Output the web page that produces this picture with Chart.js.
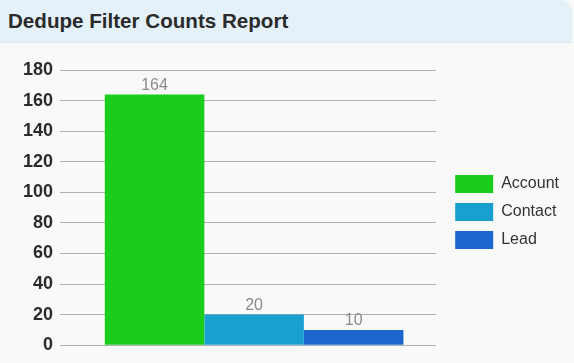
<!DOCTYPE html>
<html><head><meta charset="utf-8">
<script src="https://cdn.jsdelivr.net/npm/chart.js@4"></script>
<style>
html,body{margin:0;padding:0;background:#f9f9f9;width:574px;height:363px;overflow:hidden;font-family:"Liberation Sans",Arial,sans-serif;}
#hdr{position:absolute;left:0;top:0;width:572px;height:42px;background:#e4f1f9;border-top-right-radius:12px;border-bottom:1px solid #dde6ec;}
#hdr span{position:absolute;left:8px;top:9px;font-size:20.6px;font-weight:bold;color:#2b2b2b;}
#wrap{position:absolute;left:0;top:43px;width:574px;height:320px;}
</style></head><body>
<div id="hdr"><span>Dedupe Filter Counts Report</span></div>
<div id="wrap"><canvas id="c" width="574" height="320"></canvas></div>
<script>
const categories = [""];
const seriesNames = ["Account", "Contact", "Lead"];
const seriesValues = [[164], [20], [10]];
const seriesColors = ["#1acd1a", "#1aa0d0", "#1a66cc"];
const yTicks = [0, 20, 40, 60, 80, 100, 120, 140, 160, 180];

const labelPlugin = {
  id: "valLabels",
  afterLayout(chart) {
    const l = chart.legend;
    if (l) { l.left += 9; l.right += 9; }
  },
  afterDatasetsDraw(chart) {
    const ctx = chart.ctx;
    ctx.save();
    ctx.font = "16px 'Liberation Sans', Arial, sans-serif";
    ctx.fillStyle = "#8a8a8a";
    ctx.textAlign = "center";
    ctx.textBaseline = "bottom";
    chart.data.datasets.forEach((ds, i) => {
      chart.getDatasetMeta(i).data.forEach((bar, j) => {
        ctx.fillText(String(ds.data[j]), bar.x, bar.y - 1);
      });
    });
    ctx.restore();
  }
};

new Chart(document.getElementById("c"), {
  type: "bar",
  data: {
    labels: categories,
    datasets: seriesNames.map((n, i) => ({
      label: n, data: seriesValues[i], backgroundColor: seriesColors[i],
      borderWidth: 0, categoryPercentage: 0.82, barPercentage: 1
    }))
  },
  options: {
    responsive: false, animation: false,
    layout: { padding: { top: 27, right: 14, bottom: 9, left: 16 } },
    plugins: {
      legend: {
        position: "right",
        labels: { boxWidth: 38, boxHeight: 18, padding: 10, color: "#333", font: { size: 16, family: "'Liberation Sans', Arial, sans-serif" } }
      },
      tooltip: { enabled: false }
    },
    scales: {
      x: { grid: { display: false }, ticks: { display: false }, border: { display: false } },
      y: {
        min: 0, max: 180,
        afterBuildTicks(axis) { axis.ticks = yTicks.map(v => ({ value: v })); },
        ticks: { color: "#2b2b2b", font: { size: 18, weight: "bold", family: "'Liberation Sans', Arial, sans-serif" }, padding: 7 },
        grid: { color: "#b0b0b0", tickLength: 12 },
        border: { display: false }
      }
    }
  },
  plugins: [labelPlugin]
});
</script>
</body></html>
